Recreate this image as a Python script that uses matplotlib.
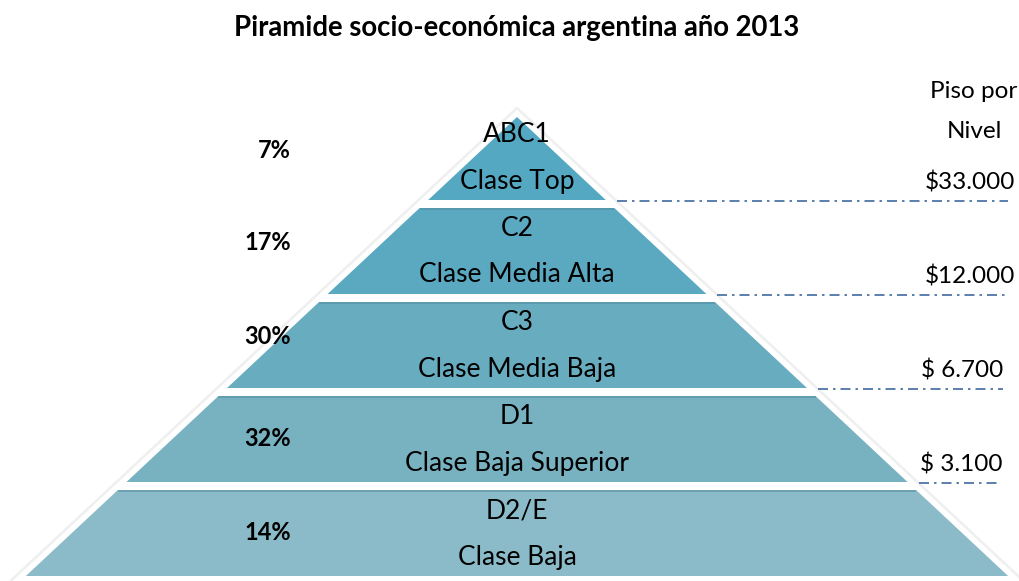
import matplotlib.pyplot as plt
from matplotlib.patches import Polygon

title = 'Piramide socio-económica argentina año 2013'
codes = ['ABC1', 'C2', 'C3', 'D1', 'D2/E']
classes = ['Clase Top', 'Clase Media Alta', 'Clase Media Baja',
           'Clase Baja Superior', 'Clase Baja']
shares = [7, 17, 30, 32, 14]
floors = ['$33.000', '$12.000', '$ 6.700', '$ 3.100']
colors = ['#55a8c1', '#5aa9c1', '#68adbf', '#78b2c1', '#8bbbc8']

plt.rcParams['font.family'] = ['Lato', 'DejaVu Sans']

fig = plt.figure(figsize=(10.2, 5.81), dpi=100)
ax = fig.add_axes([0, 0, 1, 1])
ax.set_xlim(0, 1020)
ax.set_ylim(581, 0)
ax.axis('off')

# pyramid layout (pixel units)
cx, apex_y, slope = 517, 117, 1.07
first_bottom, pitch, band_h = 200, 94, 86


def half_w(y):
    return slope * (y - apex_y)


# faint outline around the pyramid
bot = first_bottom + pitch * (len(codes) - 1) + 4
ax.plot([cx - half_w(bot) - 10, cx, cx + half_w(bot) + 10],
        [bot, apex_y - 9, bot], color='#efefef', lw=1.8, zorder=1)

pct_y = [150, 243, 337, 438, 532]
for i in range(len(codes)):
    yb = first_bottom + pitch * i
    yt = max(apex_y, yb - band_h)
    pts = [(cx - half_w(yt), yt), (cx + half_w(yt), yt),
           (cx + half_w(yb), yb), (cx - half_w(yb), yb)]
    ax.add_patch(Polygon(pts, closed=True, facecolor=colors[i],
                         edgecolor='none', zorder=2))
    if i > 0:
        ax.plot([cx - half_w(yt) + 1, cx + half_w(yt) - 1], [yt + 1, yt + 1],
                color='#4f8a9c', lw=1.2, alpha=0.6, zorder=3)
    ax.text(cx, yb - 65, codes[i], ha='center', va='center',
            fontsize=19, zorder=4)
    ax.text(cx, yb - 19, classes[i], ha='center', va='center',
            fontsize=19, zorder=4)
    ax.text(291, pct_y[i], f'{shares[i]}%', ha='right', va='center',
            fontsize=17, fontweight='bold', zorder=4)

# floor income per level
ax.text(974, 92, 'Piso por', ha='center', va='center', fontsize=17.5)
ax.text(974, 131, 'Nivel', ha='center', va='center', fontsize=17.5)
floor_right = [1015, 1015, 1003, 1003]
line_end = [1008, 1008, 1003, 1000]
for i, lab in enumerate(floors):
    yb = first_bottom + pitch * i + 1
    ax.text(floor_right[i], yb - 18, lab, ha='right', va='center',
            fontsize=17.5)
    ax.plot([cx + half_w(yb) + 10, line_end[i]], [yb, yb], color='#3f6aa0',
            lw=1.2, dashes=(6, 3, 1.5, 3), zorder=2)

ax.text(517, 28, title, ha='center', va='center', fontsize=19.8,
        fontweight='bold')

fig.savefig('out.png', dpi=100)
